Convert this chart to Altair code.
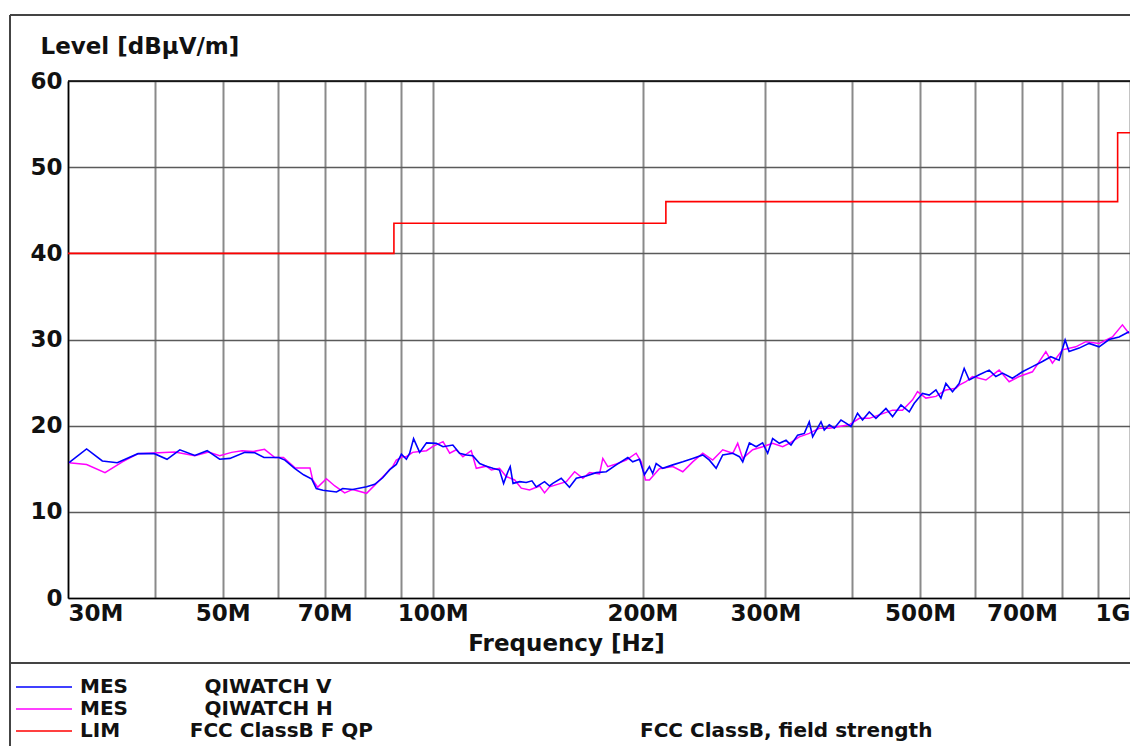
import altair as alt
import pandas as pd

FONT = "DejaVu Sans"
FW = "bold"
FS = 23
LFS = 20
TXT = "#111111"
NB = "\u00a0"

# ---- data ----
v_freq = [30.1, 31.9, 33.6, 35.3, 37.8, 39.9, 41.6, 43.4, 45.6, 47.5,
          49.5, 51.2, 53.8, 55.6, 57.3, 60.2, 61.4, 63.4, 65.3, 67.1,
          68.1, 69.6, 72.8, 74.3, 76.8, 80.4, 82.6, 84.8, 86.8, 88.7,
          90.2, 91.7, 92.7, 93.9, 95.8, 98.0, 101.2, 103.5, 106.9, 109.3,
          111.8, 114.2, 116.8, 119.4, 122.0, 124.7, 126.4, 128.2, 129.2, 130.4,
          133.3, 136.2, 138.8, 140.8, 144.7, 147.1, 148.7, 152.9, 157.1, 160.7,
          166.0, 171.6, 177.4, 183.3, 190.5, 193.6, 198.0, 201.2, 204.6, 206.8,
          209.2, 213.8, 221.0, 228.4, 236.0, 244.0, 249.4, 255.0, 260.6, 269.4,
          275.4, 278.4, 284.6, 291.0, 297.3, 302.3, 307.3, 314.2, 321.2, 326.5,
          333.7, 341.2, 346.8, 350.7, 360.5, 364.4, 370.5, 376.7, 385.1, 391.5,
          398.0, 406.7, 413.5, 422.8, 432.2, 446.7, 456.6, 469.4, 482.4, 490.5,
          504.1, 515.4, 526.9, 535.6, 544.5, 556.5, 568.9, 578.4, 588.1, 607.8,
          628.1, 642.2, 656.3, 678.3, 701.0, 724.6, 748.9, 769.9, 791.3, 807.2,
          817.8, 845.4, 873.7, 903.0, 933.3, 964.4, 996.8]
v_level = [15.7, 17.3, 15.9, 15.7, 16.75, 16.75, 16.1, 17.2, 16.55, 17.1,
           16.1, 16.2, 16.9, 16.85, 16.3, 16.3, 16.0, 15.05, 14.3, 13.8,
           12.7, 12.5, 12.3, 12.7, 12.6, 12.9, 13.2, 13.95, 14.9, 15.5,
           16.7, 16.1, 16.8, 18.5, 16.9, 18.0, 17.95, 17.55, 17.75, 16.8,
           16.6, 16.5, 15.6, 15.3, 15.05, 14.85, 13.3, 14.65, 15.25, 13.3,
           13.5, 13.4, 13.6, 12.9, 13.5, 13.0, 13.3, 13.9, 12.85, 13.9,
           14.15, 14.55, 14.65, 15.45, 16.3, 15.8, 16.1, 14.3, 15.25, 14.45,
           15.6, 15.05, 15.45, 15.8, 16.2, 16.6, 16.0, 15.05, 16.6, 16.8,
           16.4, 15.8, 18.0, 17.55, 18.0, 16.8, 18.5, 17.95, 18.3, 17.75,
           18.9, 19.1, 20.45, 18.7, 20.45, 19.5, 20.1, 19.7, 20.65, 20.3,
           19.9, 21.45, 20.65, 21.6, 20.85, 22.0, 21.05, 22.4, 21.6, 22.6,
           23.75, 23.55, 24.15, 23.2, 24.9, 23.95, 24.9, 26.65, 25.3, 25.9,
           26.45, 25.7, 26.1, 25.5, 26.25, 26.85, 27.45, 28.0, 27.6, 29.95,
           28.6, 29.0, 29.55, 29.15, 30.0, 30.3, 30.9]

h_freq = [30.1, 31.9, 33.9, 35.9, 37.8, 40.5, 42.7, 45.6, 47.7, 49.5,
          51.5, 53.3, 55.3, 57.4, 59.4, 61.1, 63.5, 66.7, 67.3, 68.4,
          70.4, 72.4, 74.8, 76.8, 80.4, 82.6, 85.4, 87.7, 88.7, 90.6,
          91.7, 93.6, 95.8, 98.0, 100.1, 103.5, 105.8, 108.1, 110.5, 113.6,
          115.5, 119.4, 121.4, 124.7, 127.5, 131.1, 134.0, 137.7, 142.4, 144.7,
          147.1, 155.5, 159.8, 164.2, 167.9, 173.5, 175.4, 178.3, 183.3, 189.5,
          195.8, 199.1, 201.9, 204.6, 211.4, 221.0, 228.4, 236.0, 244.0, 252.1,
          260.6, 269.4, 273.8, 278.4, 287.7, 297.3, 307.3, 317.6, 324.7, 335.6,
          346.8, 358.5, 370.5, 382.9, 395.7, 409.1, 422.8, 436.9, 456.6, 471.8,
          487.7, 495.8, 509.7, 526.9, 544.5, 562.8, 568.9, 581.6, 594.5, 621.4,
          649.1, 671.0, 693.5, 724.6, 757.4, 774.0, 800.0, 836.1, 864.3, 903.0,
          943.6, 975.3, 996.8]
h_level = [15.7, 15.5, 14.55, 15.8, 16.75, 16.85, 16.95, 16.5, 16.95, 16.5,
           16.9, 17.1, 17.0, 17.25, 16.3, 16.3, 15.1, 15.1, 13.7, 12.85,
           13.85, 13.0, 12.2, 12.6, 12.15, 13.1, 14.3, 15.3, 16.0, 16.4,
           16.4, 16.9, 17.0, 17.1, 17.6, 18.15, 16.8, 17.2, 16.4, 17.1,
           15.05, 15.3, 14.85, 15.05, 14.1, 13.7, 12.75, 12.55, 13.0, 12.2,
           12.9, 13.5, 14.65, 13.9, 14.55, 14.4, 16.2, 15.25, 15.55, 16.0,
           16.8, 15.8, 13.7, 13.7, 15.0, 15.25, 14.65, 15.8, 16.8, 16.0,
           17.2, 16.8, 17.95, 16.2, 17.2, 17.55, 17.95, 17.55, 17.95, 18.7,
           19.1, 19.7, 19.7, 19.9, 20.1, 20.85, 20.85, 21.25, 21.8, 21.8,
           23.0, 23.95, 23.2, 23.4, 24.15, 24.35, 24.7, 25.1, 25.7, 25.3,
           26.45, 25.1, 25.7, 26.25, 28.6, 27.25, 28.8, 29.15, 29.75, 29.55,
           30.3, 31.7, 30.7]

lim_freq = [30, 88, 216, 960, 1000]
lim_level = [40, 43.5, 46, 54, 54]

x_grid = [30, 40, 50, 60, 70, 80, 90, 100, 200, 300, 400, 500, 600, 700, 800, 900, 1000]
y_ticks = [0, 10, 20, 30, 40, 50, 60]

name_v = "MES" + NB * 11 + "QIWATCH V"
name_h = "MES" + NB * 11 + "QIWATCH H"
name_l = "LIM" + NB * 10 + "FCC ClassB F QP"
note_text = "FCC ClassB, field strength"

names = [name_v, name_h, name_l]
colors = ["#0000ff", "#ff00ff", "#ff0000"]

df_v = pd.DataFrame({"f": v_freq, "lvl": v_level, "s": name_v})
df_h = pd.DataFrame({"f": h_freq, "lvl": h_level, "s": name_h})
df_l = pd.DataFrame({"f": lim_freq, "lvl": lim_level, "s": name_l})

W, H = 1062, 517

xs = alt.Scale(type="log", domain=[30, 1000], nice=False)
ys = alt.Scale(domain=[0, 60], nice=False)

x_axis = alt.Axis(
    values=x_grid, ticks=False, grid=True, gridColor="#8a8a8a", gridWidth=2,
    labelExpr="indexof([30,50,70,100,200,300,500,700], datum.value) >= 0 ? datum.value + 'M' : (datum.value == 1000 ? '1G' : '')",
    labelFlush=True, labelOverlap=False, labelPadding=4,
    labelFont=FONT, labelFontSize=FS, labelFontWeight=FW, labelColor=TXT,
    title="Frequency [Hz]", titleFont=FONT, titleFontSize=FS, titleFontWeight=FW,
    titleColor=TXT, titleX=498, titleY=45, titleAlign="center", titleBaseline="middle",
    domainColor="#000000", domainWidth=1.5,
)
y_axis = alt.Axis(
    values=y_ticks, ticks=False, grid=True, gridColor="#5a5a5a", gridWidth=1.5,
    labelPadding=6, labelFont=FONT, labelFontSize=FS, labelFontWeight=FW, labelColor=TXT,
    title="Level [dBµV/m]", titleFont=FONT, titleFontSize=FS, titleFontWeight=FW,
    titleColor=TXT, titleAngle=0, titleX=-28, titleY=-35, titleAlign="left",
    titleBaseline="middle", domainColor="#000000", domainWidth=1.5,
)

color = alt.Color(
    "s:N",
    scale=alt.Scale(domain=names, range=colors),
    legend=alt.Legend(
        title=None, orient="none", legendX=-53, legendY=595, direction="vertical",
        symbolType="stroke", symbolSize=3136, symbolStrokeWidth=1.5,
        labelFont=FONT, labelFontSize=LFS, labelFontWeight=FW, labelColor=TXT,
        labelOffset=7, clipHeight=22, rowPadding=0, padding=0, labelLimit=600,
    ),
)


def trace(df, width):
    return alt.Chart(df).mark_line(strokeWidth=width, clip=True).encode(
        x=alt.X("f:Q", scale=xs, axis=x_axis),
        y=alt.Y("lvl:Q", scale=ys, axis=y_axis),
        color=color,
    )


lim = alt.Chart(df_l).mark_line(strokeWidth=1.6, interpolate="step-after", clip=True).encode(
    x=alt.X("f:Q", scale=xs, axis=x_axis),
    y=alt.Y("lvl:Q", scale=ys, axis=y_axis),
    color=color,
)

one = pd.DataFrame({"t": [note_text]})
frame_color = "#444444"
top_border = alt.Chart(one).mark_rule(color="#000000", strokeWidth=1.5).encode(
    x=alt.value(0), x2=alt.value(W), y=alt.value(0))
outer_top = alt.Chart(one).mark_rule(color=frame_color, strokeWidth=2).encode(
    x=alt.value(-58), x2=alt.value(1080), y=alt.value(-66))
outer_left = alt.Chart(one).mark_rule(color=frame_color, strokeWidth=2).encode(
    x=alt.value(-58), y=alt.value(-66), y2=alt.value(680))
separator = alt.Chart(one).mark_rule(color=frame_color, strokeWidth=2).encode(
    x=alt.value(-58), x2=alt.value(1080), y=alt.value(582))
note = alt.Chart(one).mark_text(
    font=FONT, fontSize=LFS, fontWeight=FW, color=TXT, align="left", baseline="middle"
).encode(x=alt.value(572), y=alt.value(650), text="t:N")

chart = alt.layer(
    lim, trace(df_h, 1.5), trace(df_v, 1.6),
    top_border, outer_top, outer_left, separator, note,
).properties(
    width=W, height=H,
    autosize=alt.AutoSizeParams(type="none"),
    padding={"left": 60, "top": 73, "right": 0, "bottom": 148},
    background="#ffffff",
).configure_view(stroke=None)

chart.save("out.html", embed_options={"renderer": "svg", "actions": False})
